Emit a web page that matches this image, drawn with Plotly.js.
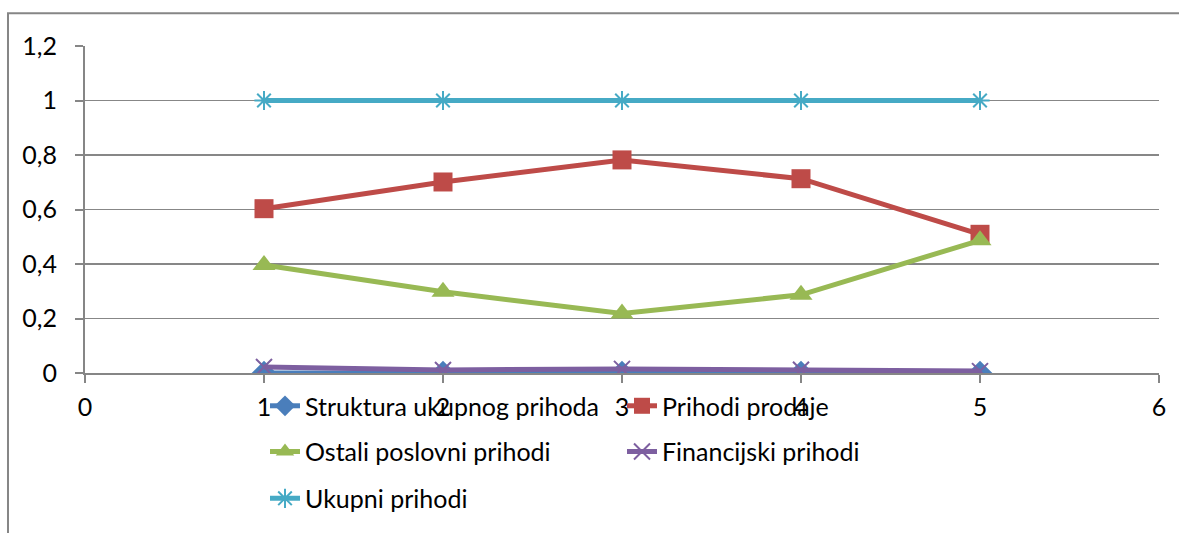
<!DOCTYPE html>
<html>
<head>
<meta charset="utf-8">
<script src="https://cdn.plot.ly/plotly-3.0.1.min.js"></script>
<style>html,body{margin:0;padding:0;background:#fff;}#chart{width:1179px;height:533px;}</style>
</head>
<body>
<div id="chart"></div>
<script>
const xValues = [1, 2, 3, 4, 5];
const seriesNames = ["Struktura ukupnog prihoda", "Prihodi prodaje", "Ostali poslovni prihodi", "Financijski prihodi", "Ukupni prihodi"];
const strukturaUkupnogPrihoda = [0, 0, 0, 0, 0];
const prihodiProdaje = [0.603, 0.701, 0.782, 0.713, 0.509];
const ostaliPoslovniPrihodi = [0.396, 0.298, 0.218, 0.287, 0.487];
const financijskiPrihodi = [0.022, 0.011, 0.015, 0.012, 0.007];
const ukupniPrihodi = [1, 1, 1, 1, 1];
const yTickValues = [0, 0.2, 0.4, 0.6, 0.8, 1, 1.2];
const xTickValues = [0, 1, 2, 3, 4, 5, 6];

const colors = ["#4A7EBB", "#BE4B48", "#98B954", "#7D5FA0", "#46AAC5"];
const allSeries = [strukturaUkupnogPrihoda, prihodiProdaje, ostaliPoslovniPrihodi, financijskiPrihodi, ukupniPrihodi];
const markers = [
  {symbol: "diamond", size: 19, color: colors[0]},
  {symbol: "square", size: 19, color: colors[1]},
  {symbol: "triangle-up", size: 20, color: colors[2]},
  {symbol: "x-thin-open", size: 16, color: colors[3], line: {color: colors[3], width: 2}},
  {symbol: "asterisk-open", size: 16, color: colors[4], line: {color: colors[4], width: 2}}
];
const legendFor = ["legend", "legend", "legend2", "legend2", "legend3"];

const traces = allSeries.map((ys, i) => ({
  x: xValues, y: ys, name: seriesNames[i], type: "scatter", mode: "lines+markers",
  line: {color: colors[i], width: 5},
  marker: markers[i],
  legend: legendFor[i]
}));

const fontFamily = "Lato, 'Noto Sans', sans-serif";
const legendBase = {
  orientation: "h", xanchor: "left", yanchor: "middle", x: 0.1676,
  bgcolor: "rgba(0,0,0,0)", font: {family: fontFamily, size: 25, color: "#000"},
  entrywidth: 312, entrywidthmode: "pixels", traceorder: "normal"
};

const layout = {
  width: 1179, height: 533,
  margin: {l: 85, r: 20, t: 46, b: 157},
  paper_bgcolor: "#fff", plot_bgcolor: "#fff",
  separators: ",.",
  font: {family: fontFamily, size: 25, color: "#000"},
  xaxis: {
    range: [0, 6], tickvals: xTickValues, showgrid: false, zeroline: false,
    showline: true, linecolor: "#868686", linewidth: 2,
    ticks: "outside", ticklen: 8, tickcolor: "#868686", tickwidth: 2,
    ticklabelstandoff: 3, tickfont: {size: 25}
  },
  yaxis: {
    range: [0, 1.2], tickvals: yTickValues, showgrid: true, gridcolor: "#878787", gridwidth: 1.6,
    zeroline: false, showline: true, linecolor: "#868686", linewidth: 2,
    ticks: "outside", ticklen: 8, tickcolor: "#868686", tickwidth: 2,
    ticklabelstandoff: 13, tickfont: {size: 25}
  },
  legend: Object.assign({}, legendBase, {y: -0.101}),
  legend2: Object.assign({}, legendBase, {y: -0.241}),
  legend3: Object.assign({}, legendBase, {y: -0.384}),
  shapes: [{
    type: "rect", xref: "paper", yref: "paper", layer: "below",
    x0: -0.0717, x1: 1.03, y0: -0.52, y1: 1.1,
    line: {color: "#868686", width: 2}, fillcolor: "rgba(0,0,0,0)"
  }]
};

Plotly.newPlot("chart", traces, layout, {displayModeBar: false, staticPlot: true});
</script>
</body>
</html>
